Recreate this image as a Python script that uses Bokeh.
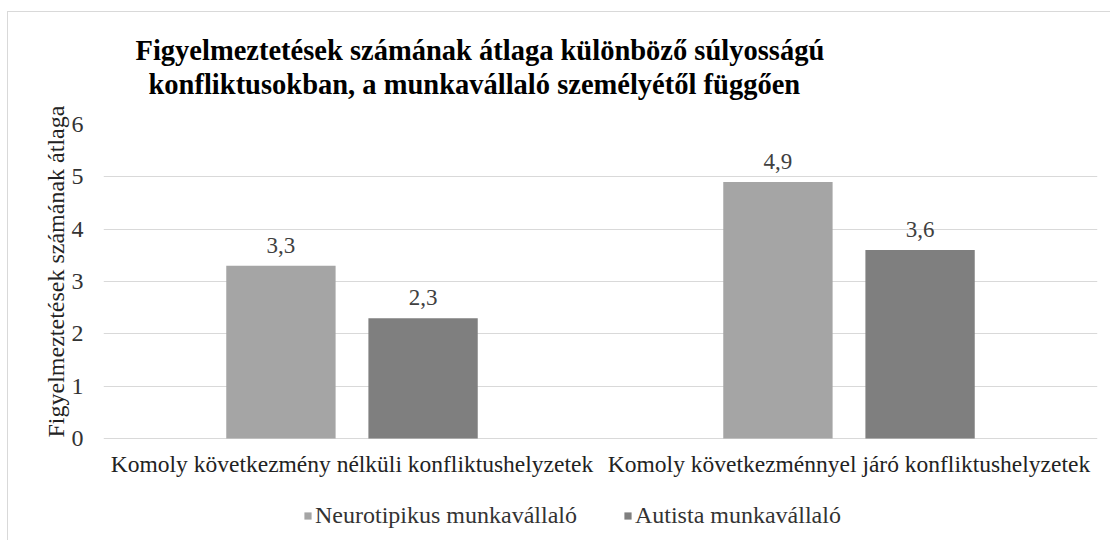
from bokeh.plotting import figure
from bokeh.models import (FactorRange, Range1d, ColumnDataSource, LabelSet,
                          Legend, LegendItem, FixedTicker, Title)
from bokeh.core.properties import value
from bokeh.transform import dodge
from bokeh.embed import file_html
from bokeh.resources import INLINE

# ---- data ----
categories = ["Komoly következmény nélküli konfliktushelyzetek",
              "Komoly következménnyel járó konfliktushelyzetek"]
neurotypical = [3.3, 4.9]
autistic = [2.3, 3.6]
series_names = ["Neurotipikus munkavállaló", "Autista munkavállaló"]
title_lines = ["Figyelmeztetések számának átlaga különböző súlyosságú",
               "konfliktusokban,  a munkavállaló személyétől függően"]
y_axis_label = "Figyelmeztetések számának átlaga"
y_ticks = [0, 1, 2, 3, 4, 5, 6]

FONT = "'Liberation Serif', 'Times New Roman', serif"
C_LIGHT = "#a5a5a5"
C_DARK = "#7f7f7f"


def fmt(v):
    return f"{v:.1f}".replace(".", ",")


src = ColumnDataSource(dict(
    cat=categories,
    n=neurotypical,
    a=autistic,
    n_lbl=[fmt(v) for v in neurotypical],
    a_lbl=[fmt(v) for v in autistic],
    base=[0] * len(categories),
))

# frame extends below the zero line so that category labels and the legend
# live inside it; the value scale is 0..6 with the zero line at the bottom
p = figure(x_range=FactorRange(*categories), y_range=Range1d(-1.968, 6),
           width=1103, height=529, output_backend="svg", toolbar_location=None,
           x_axis_location=None,
           min_border_left=95, min_border_right=14, min_border_top=112,
           min_border_bottom=0)
p.styles = {"margin-left": "7px", "margin-top": "11px",
            "border-top": "1px solid #d9d9d9",
            "border-left": "1px solid #d9d9d9"}
p.outline_line_color = None

OFF = 0.143
W = 0.22
r1 = p.vbar(x=dodge("cat", -OFF, range=p.x_range), top="n", width=W,
            source=src, fill_color=C_LIGHT, line_color=None)
r2 = p.vbar(x=dodge("cat", OFF, range=p.x_range), top="a", width=W,
            source=src, fill_color=C_DARK, line_color=None)

for col, lbl, off in (("n", "n_lbl", -OFF), ("a", "a_lbl", OFF)):
    p.add_layout(LabelSet(x=dodge("cat", off, range=p.x_range), y=col, text=lbl,
                          source=src, y_offset=13, text_align="center",
                          text_baseline="alphabetic", text_font=value(FONT),
                          text_font_size="23px", text_color="#404040"))

# category labels under the zero line
p.add_layout(LabelSet(x="cat", y="base", text="cat", source=src, y_offset=-33,
                      text_align="center", text_baseline="alphabetic",
                      text_font=value(FONT), text_font_size="23.5px",
                      text_color="#222222"))

# y axis
p.yaxis.ticker = FixedTicker(ticks=y_ticks)
p.yaxis.axis_line_color = None
p.yaxis.major_tick_line_color = None
p.yaxis.minor_tick_line_color = None
p.yaxis.major_tick_out = 0
p.yaxis.major_tick_in = 0
p.yaxis.major_label_standoff = 20
p.yaxis.major_label_text_font = FONT
p.yaxis.major_label_text_font_size = "24px"
p.yaxis.major_label_text_color = "#333333"

p.xgrid.grid_line_color = None
p.ygrid.grid_line_color = "#d9d9d9"
p.ygrid.grid_line_width = 1.2

# y axis title (left panel, starting at the zero line)
p.add_layout(Title(text=y_axis_label, align="left", offset=104, standoff=0,
                   text_font=FONT, text_font_size="24px",
                   text_font_style="normal", text_color="#222222"), "left")

# chart title: spacer + two lines (added from the frame outward)
p.add_layout(Title(text=" ", text_font_size="16px", standoff=5), "above")
p.add_layout(Title(text=title_lines[1], align="left", offset=45, standoff=1,
                   text_font=FONT, text_font_size="28.5px",
                   text_font_style="bold", text_color="#000000"), "above")
p.add_layout(Title(text=title_lines[0], align="left", offset=32, standoff=1,
                   text_font=FONT, text_font_size="28.5px",
                   text_font_style="bold", text_color="#000000"), "above")

legend = Legend(items=[LegendItem(label=series_names[0], renderers=[r1]),
                       LegendItem(label=series_names[1], renderers=[r2])],
                location=(200, 12), orientation="horizontal",
                glyph_width=9, glyph_height=9, label_standoff=3, spacing=46,
                padding=0, margin=0, border_line_color=None,
                background_fill_alpha=0, label_text_font=FONT,
                label_text_font_size="24px", label_text_color="#333333")
p.add_layout(legend, "center")

open("out.html", "w").write(file_html(p, INLINE))
